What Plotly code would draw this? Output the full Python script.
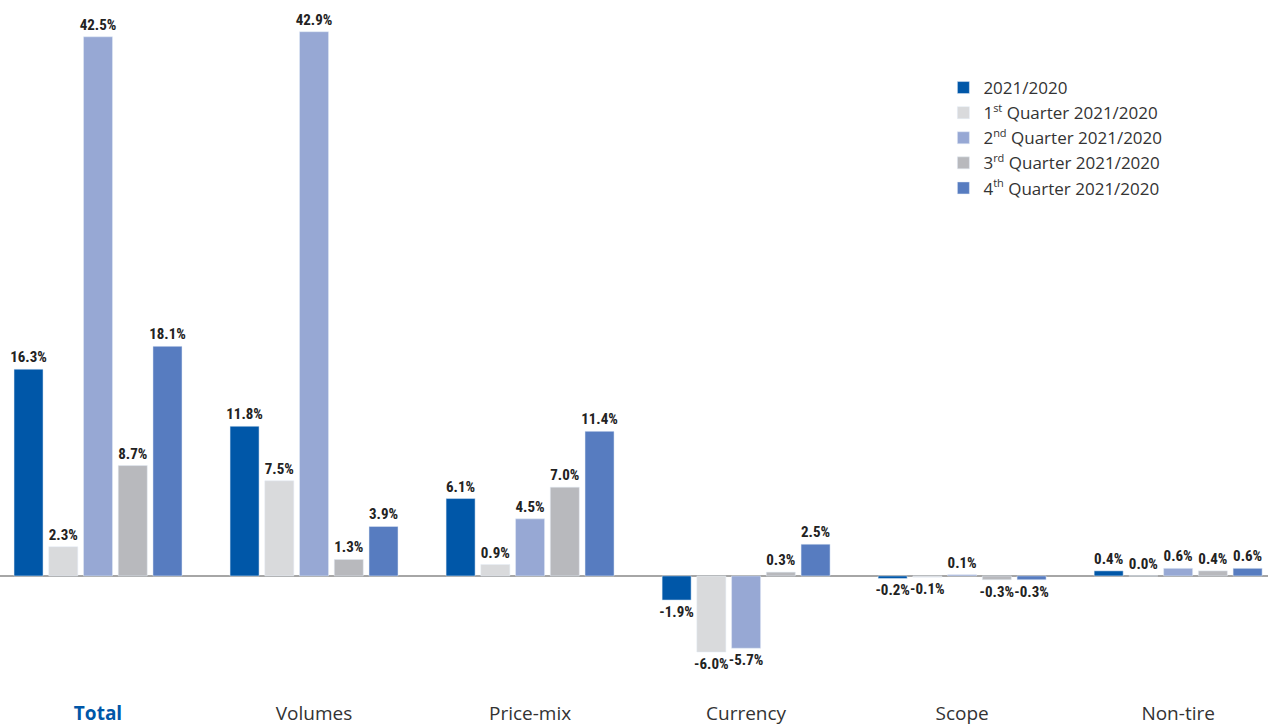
import plotly.graph_objects as go

categories = ["Total", "Volumes", "Price-mix", "Currency", "Scope", "Non-tire"]
sup = "<sup><span style='font-size:11px'>{}</span></sup>"
series_names = ["2021/2020",
                "1" + sup.format("st") + " Quarter 2021/2020",
                "2" + sup.format("nd") + " Quarter 2021/2020",
                "3" + sup.format("rd") + " Quarter 2021/2020",
                "4" + sup.format("th") + " Quarter 2021/2020"]
y2021 = [16.3, 11.8, 6.1, -1.9, -0.2, 0.4]
q1 = [2.3, 7.5, 0.9, -6.0, -0.1, 0.0]
q2 = [42.5, 42.9, 4.5, -5.7, 0.1, 0.6]
q3 = [8.7, 1.3, 7.0, 0.3, -0.3, 0.4]
q4 = [18.1, 3.9, 11.4, 2.5, -0.3, 0.6]
colors = ["#0057A8", "#D9DADC", "#97A8D4", "#B8B9BD", "#577CC0"]
tick_text = ["<b><span style='color:#0057A8'>Total</span></b>", "Volumes", "Price-mix", "Currency", "Scope", "Non-tire"]

fig = go.Figure()
for name, vals, col in zip(series_names, [y2021, q1, q2, q3, q4], colors):
    fig.add_trace(go.Bar(
        x=list(range(len(categories))), y=vals, name=name, marker_color=col,
        text=[f"<b>{v:.1f}%</b>" for v in vals], textposition="outside",
        constraintext="none",
        textfont=dict(family="Liberation Sans Narrow, Roboto Condensed, Arial Narrow, sans-serif",
                      size=15, color="#222222"),
        cliponaxis=False,
    ))

fig.update_layout(
    width=1268, height=726,
    margin=dict(l=0, r=0, t=0, b=26),
    paper_bgcolor="white", plot_bgcolor="white",
    barmode="group", bargap=0.196, bargroupgap=0.165,
    legend=dict(x=0.744, y=0.9, xanchor="left", yanchor="top",
                font=dict(family="Open Sans, sans-serif", size=17, color="#333333"),
                bgcolor="rgba(0,0,0,0)", tracegroupgap=0, itemwidth=30),
    xaxis=dict(tickmode="array", tickvals=list(range(len(categories))), ticktext=tick_text,
               range=[-0.4537, 5.416], showgrid=False, showline=False, ticks="",
               tickfont=dict(family="Open Sans, sans-serif", size=19, color="#333333")),
    yaxis=dict(range=[-9.78, 45.4], showgrid=False, showticklabels=False,
               zeroline=True, zerolinecolor="#A6A6A6", zerolinewidth=2),
)
fig.write_html("out.html", config={"displayModeBar": False},
               post_script="document.body.style.margin='0';")
